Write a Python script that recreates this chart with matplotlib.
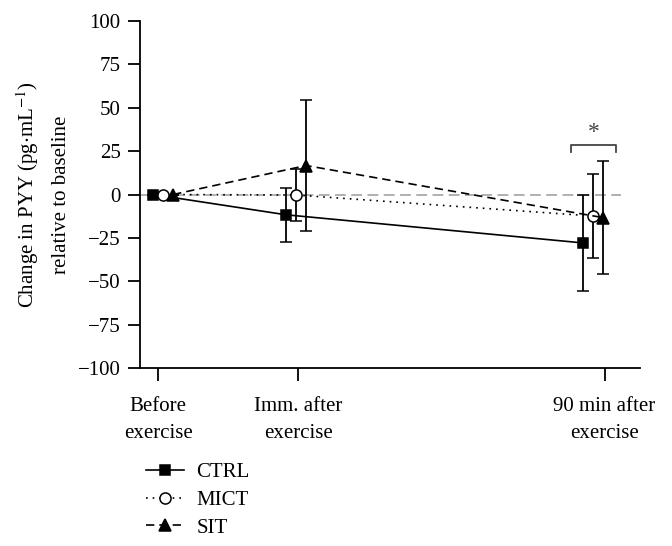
import numpy as np
import matplotlib
matplotlib.use("Agg")
import matplotlib.pyplot as plt
from matplotlib.lines import Line2D

# Time points (category positions on the x axis) and labels
timepoints = [0.0, 1.0, 3.19]
tick_labels = ["Before\nexercise", "Imm. after\nexercise", "90 min after\nexercise"]

# Change in PYY relative to baseline (mean, SD)
ctrl_mean = [0.0, -11.7, -27.9]
ctrl_err = [0.0, 15.5, 27.5]
mict_mean = [0.0, -0.3, -12.4]
mict_err = [0.0, 15.0, 24.4]
sit_mean = [0.0, 16.7, -13.3]
sit_err = [0.0, 37.5, 32.7]

plt.rcParams['font.family'] = ['Liberation Serif', 'DejaVu Serif']
plt.rcParams['font.size'] = 15
plt.rcParams['mathtext.fontset'] = 'stix'

fig = plt.figure(figsize=(6.72, 5.46), dpi=100)
ax = fig.add_axes([140 / 672, 1 - 368 / 546, 500 / 672, 347 / 546])

# small horizontal dodge so groups don't overlap
shift = np.array([0.0, -0.05, -0.12])
x = np.array(timepoints) + shift

ax.plot([-0.13, 3.31], [0, 0], color='#aaaaaa', lw=1.3, ls=(0, (6, 3)), zorder=1)

series = [
    ("CTRL", ctrl_mean, ctrl_err, -0.036, 's', 'black', '-'),
    ("MICT", mict_mean, mict_err, 0.036, 'o', 'white', (0, (1, 3))),
    ("SIT", sit_mean, sit_err, 0.107, '^', 'black', (0, (5, 3))),
]
handles = []
for name, m, e, off, mk, fc, ls in series:
    ms = 8 if mk != 's' else 7
    ax.errorbar(x + off, m, yerr=e, color='black', ecolor='black', lw=1.2,
                elinewidth=1.3, capsize=4.5, capthick=1.3, ls=ls, marker=mk,
                markersize=ms, markerfacecolor=fc,
                markeredgecolor='black', markeredgewidth=1.1, zorder=3)
    handles.append(Line2D([], [], color='black', lw=1.2, ls=ls, marker=mk, markersize=ms,
                          markerfacecolor=fc, markeredgecolor='black', markeredgewidth=1.1,
                          label=name))

# significance bracket at 90 min
bx0, bx1, by = 2.95, 3.27, 28.5
ax.plot([bx0, bx0, bx1, bx1], [by - 4, by, by, by - 4], color='#444444', lw=1.3)
ax.text((bx0 + bx1) / 2, by + 1, "*", ha='center', va='bottom', fontsize=17, color='#444444')

ax.set_xlim(-0.13, 3.443)
ax.set_ylim(-100, 100)
ax.set_yticks(np.arange(-100, 101, 25))
ax.set_yticklabels(["\u2212" + str(abs(v)) if v < 0 else str(v) for v in range(-100, 101, 25)])
ax.set_xticks(timepoints)
ax.set_xticklabels(tick_labels, linespacing=1.55)
ax.spines['top'].set_visible(False)
ax.spines['right'].set_visible(False)
for s in ['left', 'bottom']:
    ax.spines[s].set_linewidth(1.3)
ax.tick_params(direction='out', length=9, width=1.3, pad=5)
ax.tick_params(axis='x', pad=12)

# two-line y label, placed by hand to get the wide line gap
fig.text(28 / 672, 1 - 195 / 546, "Change in PYY (pg$\\cdot$mL$^{-1}$)", rotation=90,
         ha='center', va='center')
fig.text(62 / 672, 1 - 195 / 546, "relative to baseline", rotation=90,
         ha='center', va='center')

fig.legend(handles=handles, loc='upper left', bbox_to_anchor=(138 / 672, 1 - 454 / 546), frameon=False,
           handlelength=1.8, labelspacing=0.4, handletextpad=0.6, borderaxespad=0)

fig.savefig("out.png", dpi=100)
